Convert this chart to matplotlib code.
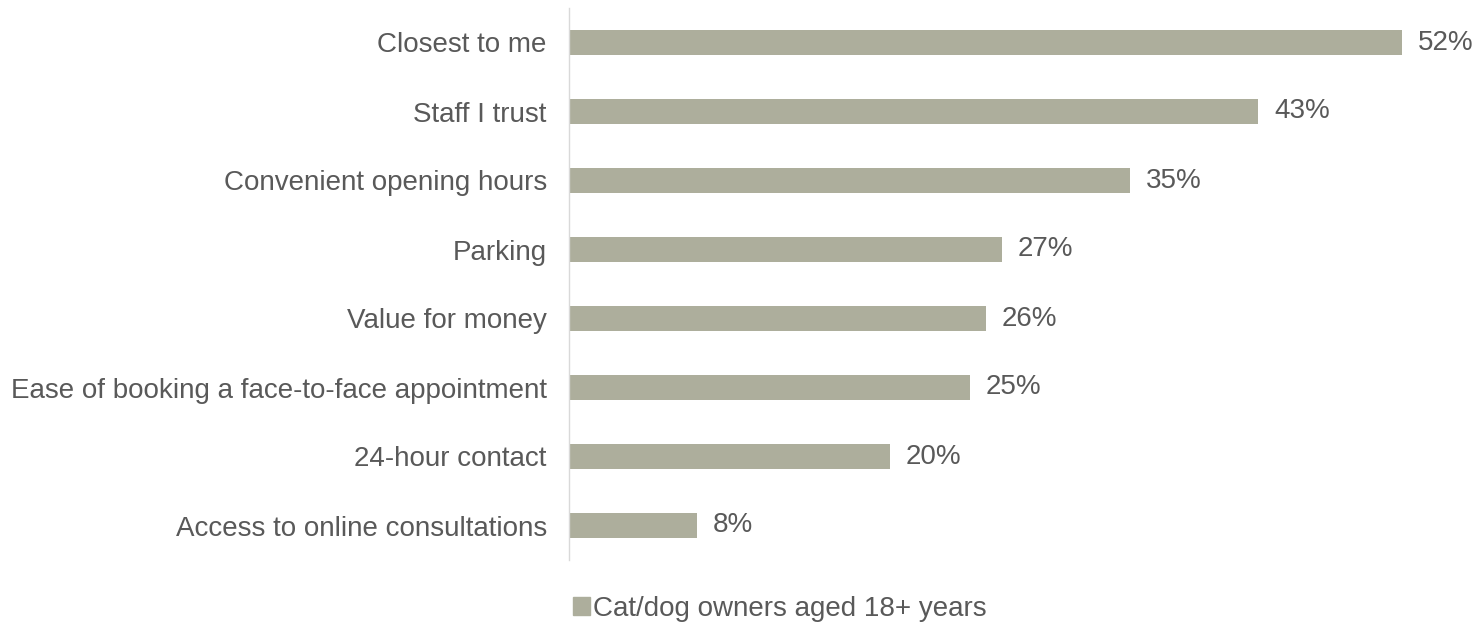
import matplotlib.pyplot as plt
from matplotlib.patches import Patch

plt.rcParams['font.family'] = ['Liberation Sans', 'DejaVu Sans']

# Reasons for choosing a vet practice
categories = ['Closest to me', 'Staff I trust', 'Convenient opening hours', 'Parking',
              'Value for money', 'Ease of booking a face-to-face appointment',
              '24-hour contact', 'Access to online consultations']
values = [52, 43, 35, 27, 26, 25, 20, 8]
series_name = 'Cat/dog owners aged 18+ years'

bar_color = '#ADAE9C'
text_color = '#595959'

fig = plt.figure(figsize=(14.72, 6.24), dpi=100)
ax = fig.add_axes([569 / 1472, 1 - 560 / 624, (1460 - 569) / 1472, 552 / 624])

ypos = list(range(len(categories)))
ax.barh(ypos, values, height=0.36, color=bar_color)
ax.set_ylim(len(categories) - 0.5, -0.5)
ax.set_xlim(0, 55.6)

for y, v in zip(ypos, values):
    ax.annotate(f'{v}%', (v, y), xytext=(11.5, 0), textcoords='offset points',
                va='center', ha='left', fontsize=20, color=text_color)

ax.set_yticks(ypos)
ax.set_yticklabels(categories, fontsize=20, color=text_color)
ax.tick_params(axis='y', length=0, pad=16)
ax.set_xticks([])
for side in ['top', 'right', 'bottom']:
    ax.spines[side].set_visible(False)
ax.spines['left'].set_color('#D9D9D9')
ax.spines['left'].set_linewidth(1)

handle = Patch(color=bar_color, label=series_name)
fig.legend(handles=[handle], loc='center', bbox_to_anchor=(780 / 1472, 1 - 609 / 624),
           frameon=False, fontsize=20, labelcolor=text_color, borderpad=0,
           handlelength=0.62, handleheight=0.62, handletextpad=0.12)

fig.savefig('out.png', dpi=100)
